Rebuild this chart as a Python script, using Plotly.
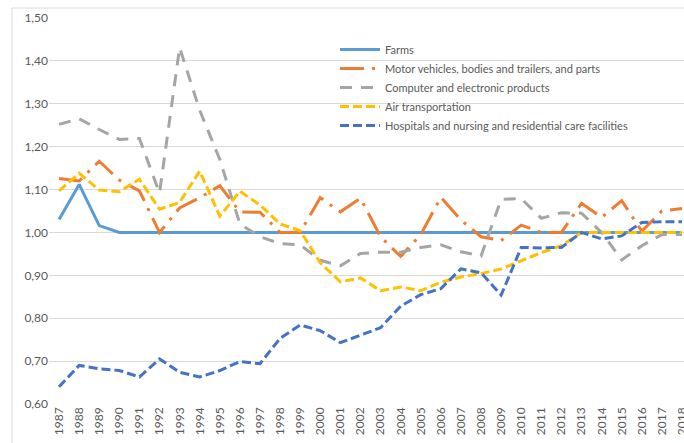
import plotly.graph_objects as go

years = list(range(1987, 2019))
year_labels = [str(y) for y in years]

farms = [1.030, 1.112, 1.016, 1.000, 1.000, 1.000, 1.000, 1.000, 1.000, 1.000, 1.000,
         1.000, 1.000, 1.000, 1.000, 1.000, 1.000, 1.000, 1.000, 1.000, 1.000, 1.000,
         1.000, 1.000, 1.000, 1.000, 1.000, 1.000, 1.000, 1.000, 1.000, 1.000]
motor = [1.126, 1.120, 1.166, 1.122, 1.097, 1.000, 1.057, 1.081, 1.109, 1.048, 1.047,
         1.000, 1.000, 1.081, 1.048, 1.080, 0.990, 0.944, 0.995, 1.082, 1.029, 0.990,
         0.981, 1.017, 1.000, 1.000, 1.068, 1.035, 1.074, 1.003, 1.050, 1.056]
computer = [1.252, 1.265, 1.240, 1.217, 1.219, 1.092, 1.431, 1.285, 1.170, 1.020, 0.990,
            0.974, 0.971, 0.935, 0.922, 0.951, 0.954, 0.954, 0.965, 0.971, 0.955, 0.945,
            1.077, 1.079, 1.033, 1.046, 1.045, 1.000, 0.936, 0.969, 0.995, 0.995]
air = [1.097, 1.138, 1.099, 1.095, 1.124, 1.054, 1.070, 1.143, 1.038, 1.096, 1.064,
       1.020, 1.004, 0.929, 0.885, 0.894, 0.864, 0.873, 0.864, 0.884, 0.896, 0.904,
       0.915, 0.934, 0.953, 0.969, 1.000, 1.000, 1.000, 1.000, 1.000, 1.000]
hosp = [0.640, 0.690, 0.682, 0.678, 0.663, 0.705, 0.674, 0.663, 0.678, 0.699, 0.694,
        0.753, 0.784, 0.771, 0.743, 0.761, 0.778, 0.828, 0.855, 0.869, 0.915, 0.906,
        0.854, 0.965, 0.964, 0.965, 1.000, 0.985, 0.992, 1.023, 1.025, 1.025]

series = [
    ("Farms", farms, "#5B9BD5", "solid"),
    ("Motor vehicles, bodies and trailers, and parts", motor, "#ED7D31", "24px,8px,3px,8px"),
    ("Computer and electronic products", computer, "#A5A5A5", "12px,9px"),
    ("Air transportation", air, "#FFC000", "9px,4px"),
    ("Hospitals and nursing and residential care facilities", hosp, "#4472C4", "9px,4px"),
]

fig = go.Figure()
for name, vals, color, dash in series:
    fig.add_trace(go.Scatter(x=years, y=vals, name=name, mode="lines",
                             line=dict(color=color, width=3, dash=dash)))

L, R, T, B = 49, 0, 18, 39
W, H = 684, 443
pw, ph = W - L - R, H - T - B

fig.update_layout(
    width=W, height=H,
    margin=dict(l=L, r=R, t=T, b=B, autoexpand=False),
    paper_bgcolor="white", plot_bgcolor="white",
    separators=", ",
    font=dict(family="Lato, Liberation Sans, sans-serif", color="#595959", size=12),
    showlegend=True,
    legend=dict(x=(335 - L) / pw, y=(H - B - 35) / ph, xanchor="left", yanchor="top",
                bgcolor="rgba(0,0,0,0)", font=dict(size=11, color="#595959"),
                itemwidth=40, tracegroupgap=0),
    xaxis=dict(range=[1986.5, 2018.1], tickmode="array", tickvals=years, ticktext=year_labels,
               tickangle=-90, showgrid=False, zeroline=False, showline=False, automargin=False,
               ticklabeloverflow="allow",
               ticks="", tickfont=dict(size=12, color="#595959")),
    yaxis=dict(range=[0.6, 1.5], dtick=0.1, tick0=0.6, tickformat=".2f", automargin=False,
               showgrid=True, gridcolor="#D9D9D9", gridwidth=1, zeroline=False,
               showline=False, ticks="", tickfont=dict(size=12, color="#595959")),
    shapes=[dict(type="rect", xref="paper", yref="paper",
                 x0=(12 - L) / pw, x1=1.2, y0=-0.3, y1=(H - B - 8) / ph,
                 line=dict(color="#D9D9D9", width=1), fillcolor="rgba(0,0,0,0)", layer="below")],
)

fig.write_html("out.html", config={"displayModeBar": False},
               post_script="document.body.style.margin='0px';document.body.style.overflow='hidden';")
